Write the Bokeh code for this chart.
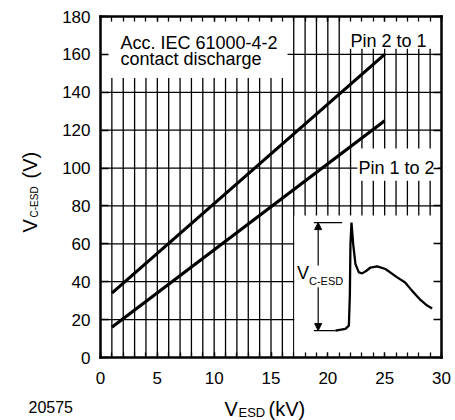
import math
from bokeh.plotting import figure
from bokeh.models import SingleIntervalTicker, LinearAxis, Label, Arrow, NormalHead
from bokeh.embed import file_html
from bokeh.resources import INLINE

# ---- data ----
v_esd = [1, 25]                 # kV
pin_2_to_1 = [34, 160]          # V
pin_1_to_2 = [16, 125]          # V

x_grid = list(range(1, 30))     # kV grid (1 kV)
y_grid = list(range(20, 180, 20))

# inset waveform (drawn in chart coordinates)
wave_x = [20.67, 21.55, 21.85, 21.94, 21.99, 22.08, 22.23, 22.43, 22.73, 23.02,
          23.4, 23.75, 24.34, 25.07, 26.1, 26.8, 27.4, 28.15, 28.74, 29.18]
wave_y = [14.2, 15.1, 16.8, 33.5, 59.8, 71.2, 59.8, 49.3, 44.9, 44.4,
          45.8, 47.5, 48.1, 46.7, 42.3, 39.6, 35.3, 30.4, 27.4, 25.9]

FONT = "Liberation Sans"
W, H = 455, 420
FX0, FX1, FY0, FY1 = 100, 441, 16, 357      # chart box in px
sx = (FX1 - FX0) / 30.0
sy = (FY1 - FY0) / 180.0

p = figure(width=W, height=H, min_border=0,
           x_range=(-FX0 / sx, (W - FX0) / sx),
           y_range=(-(H - FY1) / sy, FY1 / sy),
           output_backend="svg", toolbar_location=None,
           background_fill_color="white", border_fill_color="white")
p.outline_line_color = None
p.xgrid.visible = False
p.ygrid.visible = False

def style_axis(ax, labels=True, minor=True, tick_len=6):
    ax.axis_line_color = "black"
    ax.axis_line_width = 2.5
    ax.axis_line_cap = "square"
    ax.major_tick_in = tick_len
    ax.major_tick_out = 0
    ax.major_tick_line_color = "black"
    ax.major_tick_line_width = 1.3
    if minor:
        ax.minor_tick_in = tick_len
        ax.minor_tick_out = 0
        ax.minor_tick_line_color = "black"
        ax.minor_tick_line_width = 1.3
    else:
        ax.minor_tick_line_color = None
    if labels:
        ax.major_label_text_font = FONT
        ax.major_label_text_font_size = "17px"
        ax.major_label_text_color = "black"
    else:
        ax.major_label_text_font_size = "0px"
        ax.major_label_text_color = None

bx = p.xaxis[0]
bx.ticker = SingleIntervalTicker(interval=5, num_minor_ticks=5)
bx.fixed_location = 0
bx.bounds = (0, 30)
style_axis(bx, labels=True, minor=True, tick_len=5)
bx.major_label_standoff = 14

ly = p.yaxis[0]
ly.ticker = SingleIntervalTicker(interval=20, num_minor_ticks=0)
ly.fixed_location = 0
ly.bounds = (0, 180)
style_axis(ly, labels=True, minor=False, tick_len=8)
ly.major_label_standoff = 10

top_ax = LinearAxis(ticker=SingleIntervalTicker(interval=5, num_minor_ticks=5),
                    fixed_location=180, bounds=(0, 30))
style_axis(top_ax, labels=False, minor=True, tick_len=5)
p.add_layout(top_ax, "above")
right_ax = LinearAxis(ticker=SingleIntervalTicker(interval=20, num_minor_ticks=0),
                      fixed_location=30, bounds=(0, 180))
style_axis(right_ax, labels=False, minor=False, tick_len=8)
p.add_layout(right_ax, "right")

# grid
p.segment(x0=x_grid, y0=[0] * len(x_grid), x1=x_grid, y1=[180] * len(x_grid),
          line_color="black", line_width=1.3)
p.segment(x0=[0] * len(y_grid), y0=y_grid, x1=[30] * len(y_grid), y1=y_grid,
          line_color="black", line_width=1.3)

# white boxes hiding the grid
p.quad(left=[0, 21.6, 22.6, 17.05], right=[16.45, 29.15, 29.7, 30],
       bottom=[147.5, 163, 93.3, 0], top=[180, 180, 110.3, 75],
       fill_color="white", line_color=None)

# data lines
p.line(v_esd, pin_2_to_1, line_color="black", line_width=3.2)
p.line(v_esd, pin_1_to_2, line_color="black", line_width=3.2)

# inset
p.line(wave_x, wave_y, line_color="black", line_width=2.3)
p.line([18.77, 21.26], [71.2, 71.2], line_color="black", line_width=1.2)
p.line([18.77, 20.67], [14.2, 14.2], line_color="black", line_width=1.2)
for ys, ye in ((48.6, 71.2), (37.1, 14.2)):
    p.add_layout(Arrow(end=NormalHead(size=7, fill_color="black", line_color="black"),
                       x_start=19.15, y_start=ys, x_end=19.15, y_end=ye,
                       line_color="black", line_width=1.2))

SHIFT = 5  # rendered baseline sits this many px lower than requested

def lab(px, py, text, size="18px", angle=0):
    # px, py: desired left / baseline position in picture pixels
    if angle:
        px -= SHIFT
    else:
        py -= SHIFT
    p.add_layout(Label(x=(px - FX0) / sx, y=(FY1 - py) / sy, text=text,
                       text_font=FONT, text_font_size=size,
                       text_color="black", text_align="left",
                       text_baseline="alphabetic", angle=angle))

lab(120, 47, "Acc. IEC 61000-4-2")
lab(120, 63.5, "contact discharge")
lab(350, 45, "Pin 2 to 1")
lab(358, 172, "Pin 1 to 2")
lab(296.5, 277, "V", size="18px")
lab(308.5, 285, "C-ESD", size="11px")

# axis titles
lab(224, 413, "V", size="20px")
lab(238, 417, "ESD", size="13px")
lab(268, 413, "(kV)", size="20px")
lab(28, 411, "20575", size="16px")

lab(34, 232, "V", size="20px", angle=math.pi / 2)
lab(39, 217, "C-ESD", size="10px", angle=math.pi / 2)
lab(34, 178, "(V)", size="20px", angle=math.pi / 2)

open("out.html", "w").write(file_html(p, INLINE))
